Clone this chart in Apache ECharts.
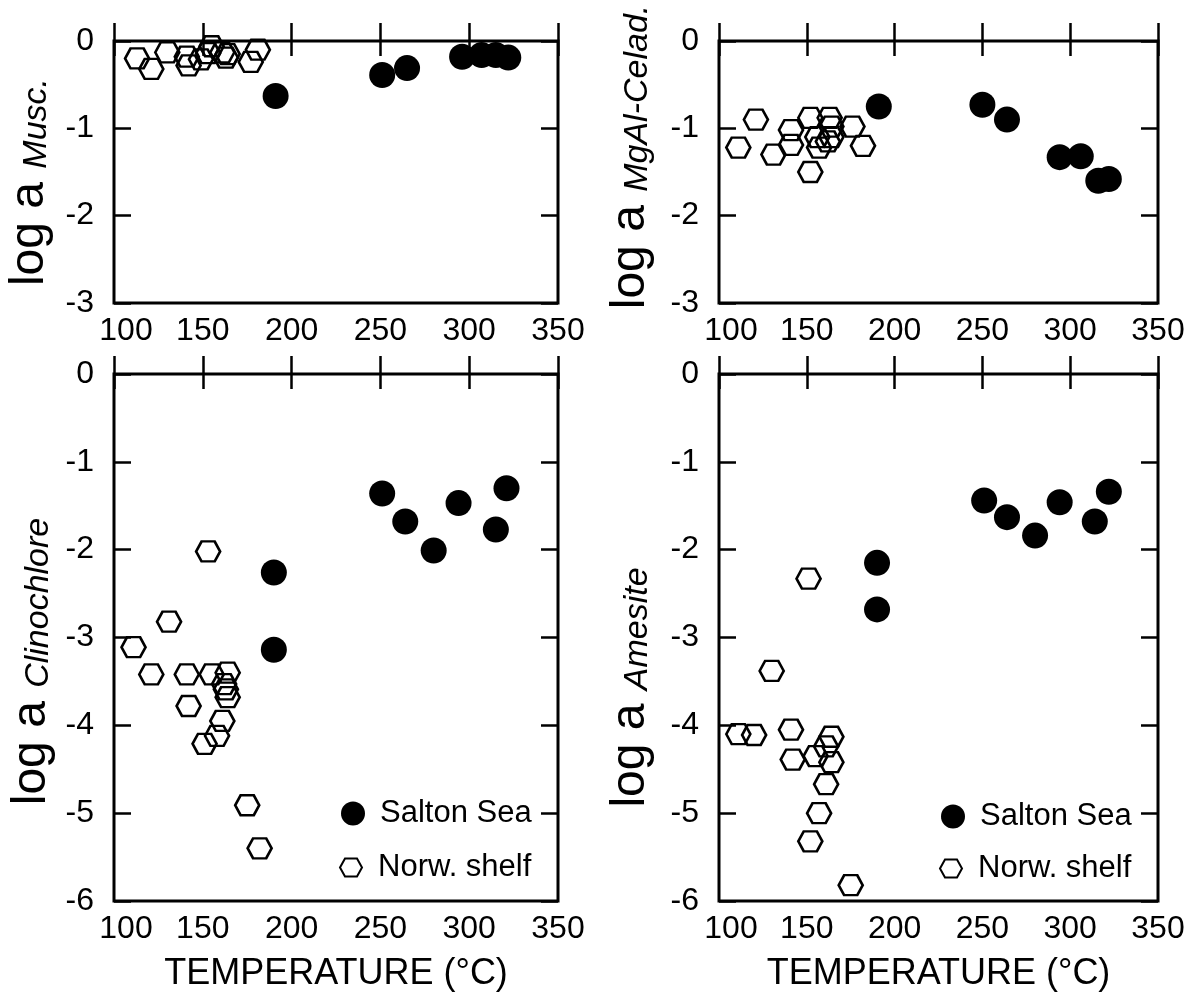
<!DOCTYPE html>
<html lang="en">
<head>
<meta charset="UTF-8">
<title>log a vs temperature</title>
<style type="text/css">
  html, body { margin: 0; padding: 0; background: #fff; }
  #main { width: 1194px; height: 992px; }
</style>
</head>
<body>
<div id="main"></div>
<script type="text/javascript" src="https://cdn.jsdelivr.net/npm/echarts@6/dist/echarts.min.js"></script>
<script type="text/javascript">
// data: [temperature, log a]
var muscSalton = [[191,-0.63],[251,-0.39],[265,-0.31],[296,-0.18],[307,-0.16],[315,-0.16],[322,-0.19]];
var muscNorw = [[113,-0.20],[121,-0.32],[130,-0.13],[141,-0.18],[142,-0.28],[149,-0.21],[153,-0.14],
                [155,-0.06],[161,-0.13],[163,-0.19],[164,-0.15],[177,-0.24],[181,-0.10]];
var celadSalton = [[191,-0.75],[250,-0.73],[264,-0.90],[294,-1.33],[306,-1.32],[316,-1.60],[322,-1.58]];
var celadNorw = [[111,-1.22],[121,-0.90],[131,-1.30],[141,-1.02],[141,-1.19],[152,-0.88],[152,-1.50],
                 [156,-1.10],[157,-1.22],[162,-1.15],[163,-0.88],[164,-0.98],[164,-1.10],[176,-0.98],[182,-1.20]];
var clinoSalton = [[190,-2.26],[190,-3.14],[251,-1.36],[264,-1.68],[280,-2.01],[294,-1.47],[315,-1.77],[321,-1.30]];
var clinoNorw = [[111,-3.11],[121,-3.42],[131,-2.82],[141,-3.42],[142,-3.78],[153,-2.02],[155,-3.42],[164,-3.40],
                 [162,-3.53],[163,-3.59],[164,-3.68],[161,-3.95],[158,-4.12],[151,-4.21],[175,-4.91],[182,-5.40]];
var amesSalton = [[190,-2.15],[190,-2.68],[251,-1.44],[264,-1.63],[280,-1.84],[294,-1.46],[314,-1.68],[322,-1.34]];
var amesNorw = [[111,-4.10],[120,-4.11],[130,-3.38],[141,-4.05],[142,-4.39],[151,-2.33],[155,-4.35],[161,-4.24],
                [164,-4.13],[164,-4.42],[161,-4.67],[157,-5.00],[152,-5.32],[175,-5.82]];

var xTicks = [100, 150, 200, 250, 300, 350];
var minerals = ['Musc.', 'MgAl-Celad.', 'Clinochlore', 'Amesite'];
var yMins = [-3, -3, -6, -6];
var seriesNames = ['Salton Sea', 'Norw. shelf'];

var FONT = 'Liberation Sans';
var hexagon = 'path://M0,9 L5,0 L17,0 L22,9 L17,18 L5,18 Z';

var myChart = echarts.init(document.getElementById('main'));

// panel boxes
var grids = [
  { left: 114, top: 41, width: 444, height: 262 },
  { left: 719, top: 41, width: 439, height: 262 },
  { left: 114, top: 374, width: 444, height: 527 },
  { left: 719, top: 374, width: 439, height: 527 }
];
grids.forEach(function (g) {
  g.show = true;
  g.borderColor = '#000';
  g.borderWidth = 3;
  g.backgroundColor = 'transparent';
  g.containLabel = false;
  g.outerBoundsMode = 'none';   // keep boxes fixed, don't shrink for labels
});

var nameGaps = [60, 64, 58, 64];
var namePads = [[0, 20, 0, 0], [0, 0, 0, 30], [0, 48, 0, 0], [0, 100, 0, 0]];

var xAxes = [];
var yAxes = [];
for (var i = 0; i < 4; i++) {
  var bottom = i >= 2;
  xAxes.push({
    type: 'value', gridIndex: i, position: 'bottom',
    min: xTicks[0], max: xTicks[xTicks.length - 1], interval: 50,
    axisLine: { show: false },
    axisTick: { inside: true, length: 18, lineStyle: { color: '#000', width: 2.5 } },
    splitLine: { show: false },
    axisLabel: {
      color: '#000', fontFamily: FONT, fontSize: 32, margin: 12,
      formatter: function (v) { return v === 100 ? '{m|100}' : String(v); },
      rich: { m: { fontFamily: FONT, fontSize: 32, color: '#000', padding: [0, 0, 0, 24] } }
    },
    name: bottom ? 'TEMPERATURE (°C)' : '',
    nameLocation: 'middle', nameGap: 55,
    nameTextStyle: { color: '#000', fontFamily: FONT, fontSize: 36 }
  });
  xAxes.push({
    type: 'value', gridIndex: i, position: 'top',
    min: xTicks[0], max: xTicks[xTicks.length - 1], interval: 50,
    axisLine: { show: false },
    axisTick: { inside: true, length: 15, lineStyle: { color: '#000', width: 2.5 } },
    splitLine: { show: false },
    axisLabel: { show: false }
  });
  yAxes.push({
    type: 'value', gridIndex: i, position: 'left',
    min: yMins[i], max: 0, interval: 1,
    axisLine: { show: false },
    axisTick: { inside: true, length: 17, lineStyle: { color: '#000', width: 2.5 } },
    splitLine: { show: false },
    axisLabel: { color: '#000', fontFamily: FONT, fontSize: 32, margin: 20 },
    name: '{a|log a }{b|' + minerals[i] + '}',
    nameLocation: 'middle', nameGap: nameGaps[i],
    nameTextStyle: {
      padding: namePads[i],
      rich: {
        a: { fontFamily: FONT, fontSize: 48, color: '#000', verticalAlign: 'bottom' },
        b: { fontFamily: FONT, fontSize: 34, fontStyle: 'italic', color: '#000', verticalAlign: 'bottom' }
      }
    }
  });
  yAxes.push({
    type: 'value', gridIndex: i, position: 'right',
    min: yMins[i], max: 0, interval: 1,
    axisLine: { show: false },
    axisTick: { inside: true, length: 17, lineStyle: { color: '#000', width: 2.5 } },
    splitLine: { show: false },
    axisLabel: { show: false }
  });
}

var saltonSets = [muscSalton, celadSalton, clinoSalton, amesSalton];
var norwSets = [muscNorw, celadNorw, clinoNorw, amesNorw];
var series = [];
for (var k = 0; k < 4; k++) {
  series.push({
    name: seriesNames[1], type: 'scatter',
    xAxisIndex: k * 2, yAxisIndex: k * 2,
    symbol: hexagon, symbolSize: [24, 20],
    itemStyle: { color: 'rgba(0,0,0,0)', borderColor: '#000', borderWidth: 2.5, opacity: 1 },
    emphasis: { disabled: true },
    data: norwSets[k]
  });
  series.push({
    name: seriesNames[0], type: 'scatter',
    xAxisIndex: k * 2, yAxisIndex: k * 2,
    symbol: 'circle', symbolSize: 26,
    itemStyle: { color: '#000', opacity: 1 },
    emphasis: { disabled: true },
    data: saltonSets[k]
  });
}

function legendAt(name, left, top, h) {
  return {
    data: [name], left: left, top: top, orient: 'vertical',
    itemWidth: 44, itemHeight: h, selectedMode: false, padding: 0,
    textStyle: { color: '#000', fontFamily: FONT, fontSize: 31 }
  };
}

var option = {
  animation: false,
  backgroundColor: '#fff',
  grid: grids,
  xAxis: xAxes,
  yAxis: yAxes,
  legend: [
    legendAt('Salton Sea', 341, 798, 24),
    legendAt('Norw. shelf', 339, 852, 18),
    legendAt('Salton Sea', 941, 801, 24),
    legendAt('Norw. shelf', 939, 853, 18)
  ],
  series: series
};
myChart.setOption(option);
</script>
</body>
</html>
